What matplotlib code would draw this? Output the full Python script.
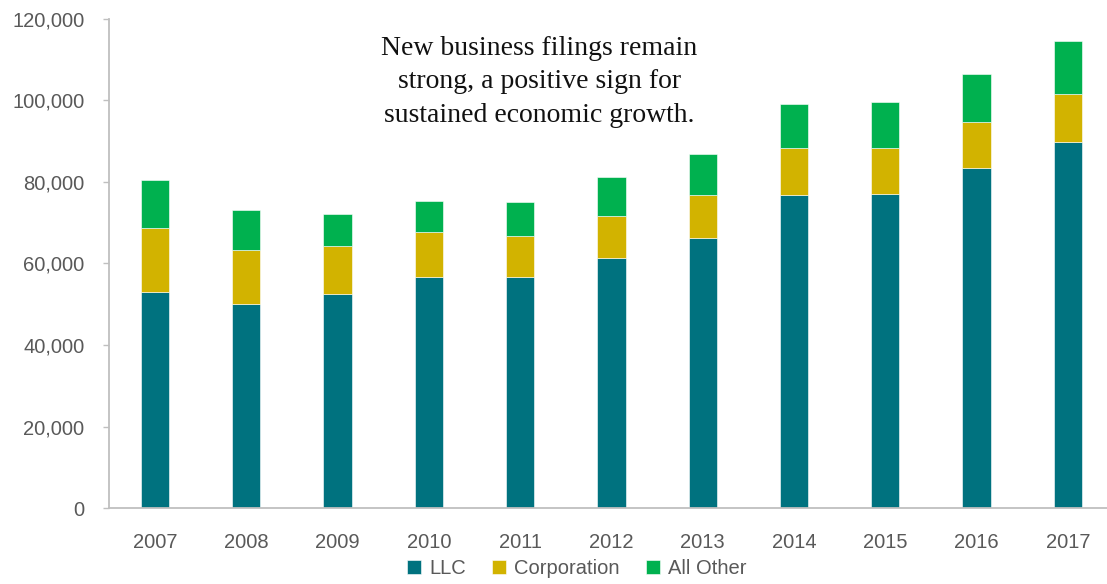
import matplotlib.pyplot as plt
import numpy as np
from matplotlib.ticker import FuncFormatter

# Filings by entity type, per year
years = ["2007", "2008", "2009", "2010", "2011", "2012", "2013", "2014", "2015", "2016", "2017"]
llc = [53000, 50000, 52500, 56600, 56700, 61300, 66300, 76700, 77100, 83400, 89700]
corporation = [15600, 13300, 11700, 11000, 9900, 10300, 10400, 11500, 11300, 11300, 11800]
all_other = [11900, 9900, 8000, 7800, 8400, 9600, 10200, 10800, 11100, 11700, 13000]

COLORS = {"LLC": "#00727F", "Corporation": "#D2B300", "All Other": "#00B14F"}
TEXT_GRAY = "#595959"
AXIS_GRAY = "#BFBFBF"

plt.rcParams['font.family'] = ['Liberation Sans', 'DejaVu Sans']


def main():
    fig = plt.figure(figsize=(11.07, 5.84), dpi=100)
    ax = fig.add_axes([0.0988, 0.130, 0.907, 0.838])

    x = np.arange(len(years))
    width = 0.31
    base = np.zeros(len(years))
    for name, vals in [("LLC", llc), ("Corporation", corporation), ("All Other", all_other)]:
        ax.bar(x, vals, width, bottom=base, color=COLORS[name], label=name,
               edgecolor="white", linewidth=0.4)
        base += np.array(vals)

    ax.set_xlim(-0.5, len(years) - 0.5)
    ax.set_ylim(0, 120000)
    ax.set_yticks(range(0, 120001, 20000))
    ax.yaxis.set_major_formatter(FuncFormatter(lambda v, _: f"{int(v):,}"))
    ax.set_xticks(x)
    ax.set_xticklabels(years)

    for side in ["top", "right"]:
        ax.spines[side].set_visible(False)
    for side in ["left", "bottom"]:
        ax.spines[side].set_color(AXIS_GRAY)
        ax.spines[side].set_linewidth(1.3)

    ax.tick_params(axis="y", length=4, width=1, color=AXIS_GRAY, pad=14,
                   labelsize=14.5, labelcolor=TEXT_GRAY)
    ax.tick_params(axis="x", length=0, pad=18, labelsize=14.5, labelcolor=TEXT_GRAY)

    ax.text(0.428, 0.965,
            "New business filings remain\nstrong, a positive sign for\nsustained economic growth.",
            transform=ax.transAxes, ha="center", va="top", fontsize=20,
            family=["Liberation Serif", "DejaVu Serif"], color="#111111",
            linespacing=1.45)

    fig.legend(loc="center", bbox_to_anchor=(0.521, 0.027), ncol=3, frameon=False,
               fontsize=14.5, labelcolor=TEXT_GRAY, handlelength=0.7, handleheight=0.7,
               handletextpad=0.4, columnspacing=1.3)

    fig.savefig("out.png", dpi=100)


if __name__ == "__main__":
    main()
